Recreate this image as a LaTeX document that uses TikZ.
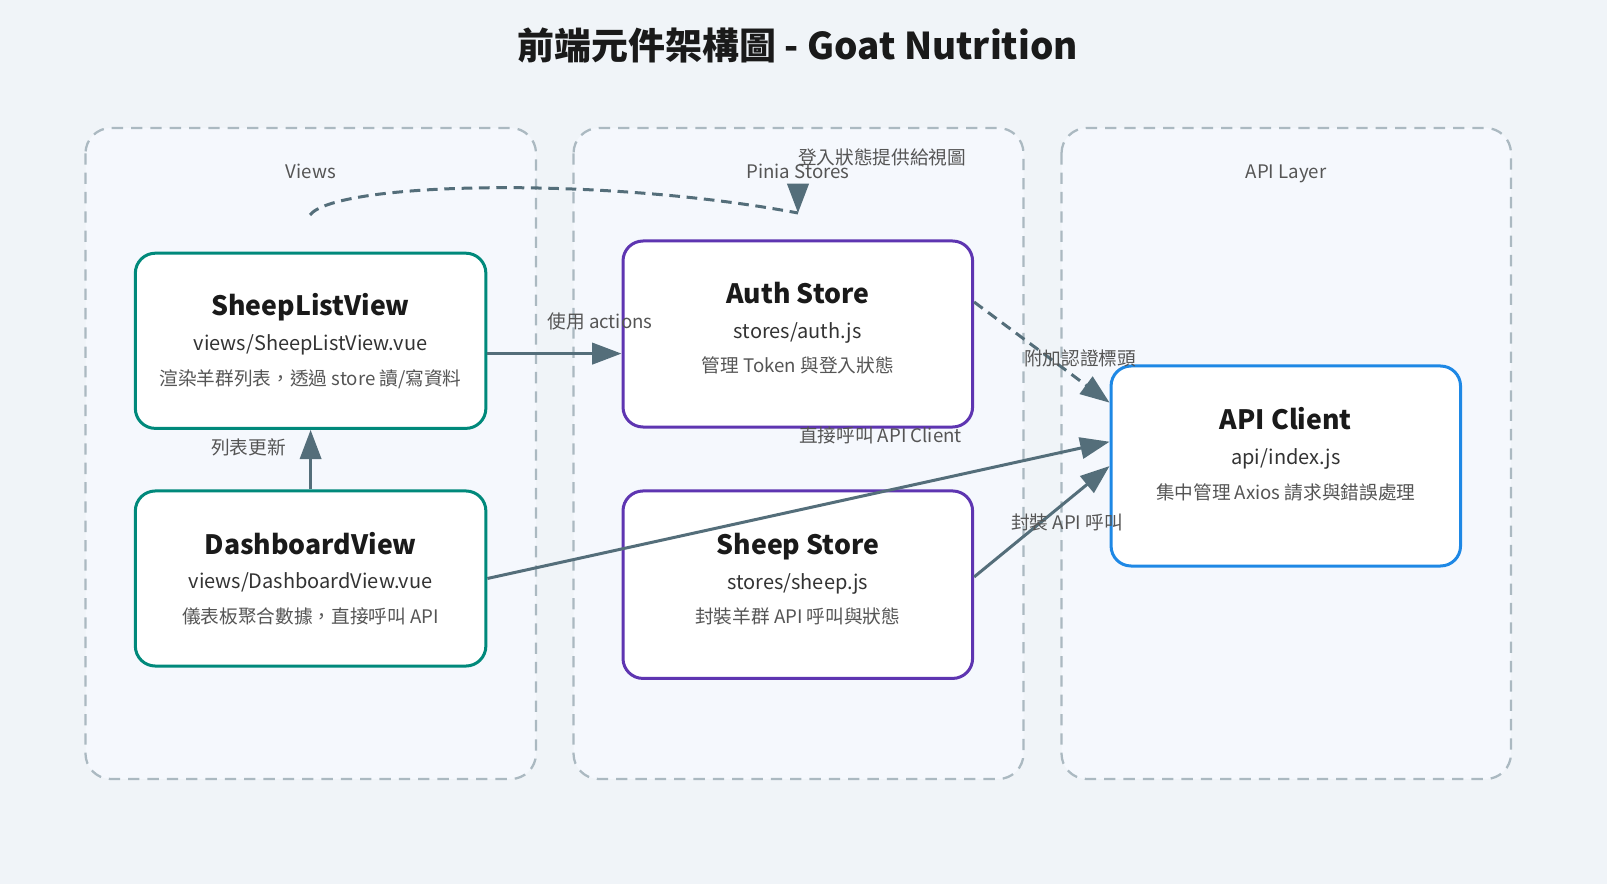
\documentclass[tikz,border=0pt]{standalone}
\usepackage{fontspec}
\setmainfont{Noto Sans CJK TC}
\usetikzlibrary{arrows.meta,calc}
\definecolor{bgc}{HTML}{F0F4F8}
\definecolor{clfill}{HTML}{F5F8FD}
\definecolor{clline}{HTML}{ABB9C1}
\definecolor{viewc}{HTML}{00897B}
\definecolor{storec}{HTML}{5E35B1}
\definecolor{apic}{HTML}{1E88E5}
\definecolor{edgec}{HTML}{546E7A}
\definecolor{titlec}{HTML}{1A1A1A}
\definecolor{subc}{HTML}{333333}
\definecolor{descc}{HTML}{555555}
\definecolor{lblc}{HTML}{555555}
\begin{document}
\begin{tikzpicture}[x=0.75pt,y=-0.75pt,
  cluster/.style={draw=clline, fill=clfill, line width=1.7pt, dash pattern=on 8.5pt off 6pt, rounded corners=19pt},
  box/.style={draw, line width=2.25pt, fill=white, rounded corners=15pt, inner sep=0pt},
  ttl/.style={font=\bfseries\fontsize{20}{24}\selectfont, text=titlec, inner sep=0pt, text height=15pt, text depth=0pt},
  subt/.style={font=\fontsize{15}{18}\selectfont, text=subc, inner sep=0pt, text height=11.25pt, text depth=0pt},
  dsc/.style={font=\fontsize{14}{17}\selectfont, text=descc, inner sep=0pt, text height=10.5pt, text depth=0pt},
  lbl/.style={font=\fontsize{14}{17}\selectfont, text=lblc, inner sep=0pt, text height=10.5pt, text depth=0pt},
  conn/.style={draw=edgec, line width=2.25pt, -{Triangle[length=22pt,width=16pt]}},
  dconn/.style={conn, dash pattern=on 8pt off 5pt}
]
\useasboundingbox (0,0) rectangle (1607,884);
\fill[bgc] (0,0) rectangle (1607,884);

% title
\node[font=\bfseries\fontsize{27.7}{33}\selectfont, text=titlec, inner sep=0pt, text height=20.5pt, text depth=0pt] (title) at (798,46) {前端元件架構圖 - Goat Nutrition};

% clusters
\draw[cluster] (85.5,128) rectangle (536,779);
\draw[cluster] (573.5,128) rectangle (1023.5,779);
\draw[cluster] (1061.5,128) rectangle (1511,779);
\node[lbl] (lviews) at (311,172) {Views};
\node[lbl] (lpinia) at (798,172) {Pinia Stores};
\node[lbl] (lapi) at (1286,172) {API Layer};

% nodes
\node[box, draw=viewc, minimum width=262.9pt, minimum height=131.4pt] (slv) at (310.6,340.8) {};
\node[ttl] (slvt) at (310.6,305.4) {SheepListView};
\node[subt] (slvs) at (310.6,343.3) {views/SheepListView.vue};
\node[dsc] (slvd) at (310.6,378.2) {渲染羊群列表，透過 store 讀/寫資料};

\node[box, draw=viewc, minimum width=262.9pt, minimum height=131.3pt] (dash) at (310.6,578.5) {};
\node[ttl] (dasht) at (310.6,544) {DashboardView};
\node[subt] (dashs) at (310.6,581) {views/DashboardView.vue};
\node[dsc] (dashd) at (310.6,616) {儀表板聚合數據，直接呼叫 API};

\node[box, draw=storec, minimum width=262.2pt, minimum height=139.5pt] (auth) at (797.8,334) {};
\node[ttl] (autht) at (797.8,294) {Auth Store};
\node[subt] (auths) at (797.8,331) {stores/auth.js};
\node[dsc] (authd) at (797.8,366) {管理 Token 與登入狀態};

\node[box, draw=storec, minimum width=262.2pt, minimum height=140.6pt] (sheep) at (797.8,584.7) {};
\node[ttl] (sheept) at (797.8,544) {Sheep Store};
\node[subt] (sheeps) at (797.8,582) {stores/sheep.js};
\node[dsc] (sheepd) at (797.8,616) {封裝羊群 API 呼叫與狀態};

\node[box, draw=apic, minimum width=262.1pt, minimum height=150pt] (api) at (1285.8,466) {};
\node[ttl] (apit) at (1285.8,419) {API Client};
\node[subt] (apis) at (1285.8,457) {api/index.js};
\node[dsc] (apid) at (1285.8,492) {集中管理 Axios 請求與錯誤處理};

% connectors
\draw[conn] ([yshift=-9.6pt]slv.east) -- ([yshift=-14.7pt]auth.west);
\node[lbl] (l1) at (600,322) {使用 actions};

\draw[conn] (dash.north) -- (slv.south);
\node[lbl] (l2) at (248.5,447) {列表更新};

\coordinate (gs) at (310,215);
\coordinate (gb) at (798,184);
\coordinate (ge) at (798,213);
\draw[draw=edgec, line width=2.25pt, dash pattern=on 8pt off 5pt] (gs) .. controls (335,182) and (600,176) .. (ge);
\draw[conn] (gb) -- (ge);
\node[lbl] (l3) at (882,158) {登入狀態提供給視圖};

\draw[dconn] ([yshift=24pt]auth.east) -- ([yshift=47.5pt]api.west);
\node[lbl] (l4) at (1080,358) {附加認證標頭};

\draw[conn] (dash.east) -- ([yshift=18.2pt]api.west);
\node[lbl] (l5) at (880.5,435) {直接呼叫 API Client};

\draw[conn] ([yshift=5.8pt]sheep.east) -- (api.west);
\node[lbl] (l6) at (1067,522) {封裝 API 呼叫};
\end{tikzpicture}
\end{document}
